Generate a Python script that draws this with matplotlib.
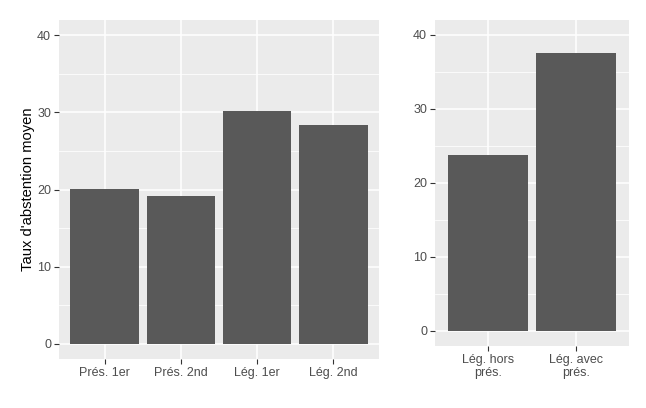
import matplotlib
matplotlib.use("Agg")
import matplotlib.pyplot as plt
from matplotlib.ticker import MultipleLocator

plt.rcParams['font.family'] = ['Liberation Sans', 'DejaVu Sans']

left_categories = ["Prés. 1er", "Prés. 2nd", "Lég. 1er", "Lég. 2nd"]
left_values = [20.1, 19.15, 30.2, 28.4]
right_categories = ["Lég. hors\nprés.", "Lég. avec\nprés."]
right_values = [23.7, 37.55]
y_label = "Taux d'abstention moyen"

W, H = 646, 408
fig = plt.figure(figsize=(W / 100, H / 100), dpi=100)
fig.patch.set_facecolor("white")

def style(ax, n):
    ax.set_facecolor("#EBEBEB")
    for s in ax.spines.values():
        s.set_visible(False)
    ax.set_ylim(-2, 42)
    ax.set_xlim(-0.6, n - 1 + 0.6)
    ax.yaxis.set_major_locator(MultipleLocator(10))
    ax.yaxis.set_minor_locator(MultipleLocator(5))
    ax.grid(which="major", color="white", linewidth=1.1)
    ax.grid(which="minor", axis="y", color="white", linewidth=0.55)
    ax.set_axisbelow(True)
    ax.tick_params(axis="both", which="major", length=3.7, width=0.8, color="#333333",
                   labelcolor="#4D4D4D", labelsize=9.0, pad=2)
    ax.tick_params(axis="y", which="minor", length=0)
    ax.tick_params(axis="x", which="minor", length=0)

def px_axes(l, t, r, b):
    return fig.add_axes([l / W, (H - b) / H, (r - l) / W, (b - t) / H])

ax1 = px_axes(59, 20, 379, 359)
ax1.bar(range(len(left_categories)), left_values, width=0.9, color="#595959")
style(ax1, len(left_categories))
ax1.set_xticks(range(len(left_categories)))
ax1.set_xticklabels(left_categories)
ax1.set_ylabel(y_label, fontsize=10.6, color="black")
ax1.yaxis.set_label_coords(-0.076, 0.5)

ax2 = px_axes(435, 20, 629, 345.7)
ax2.bar(range(len(right_categories)), right_values, width=0.9, color="#595959")
style(ax2, len(right_categories))
ax2.set_xticks(range(len(right_categories)))
ax2.set_xticklabels(right_categories, linespacing=1.1)

fig.savefig("out.png", dpi=100)
